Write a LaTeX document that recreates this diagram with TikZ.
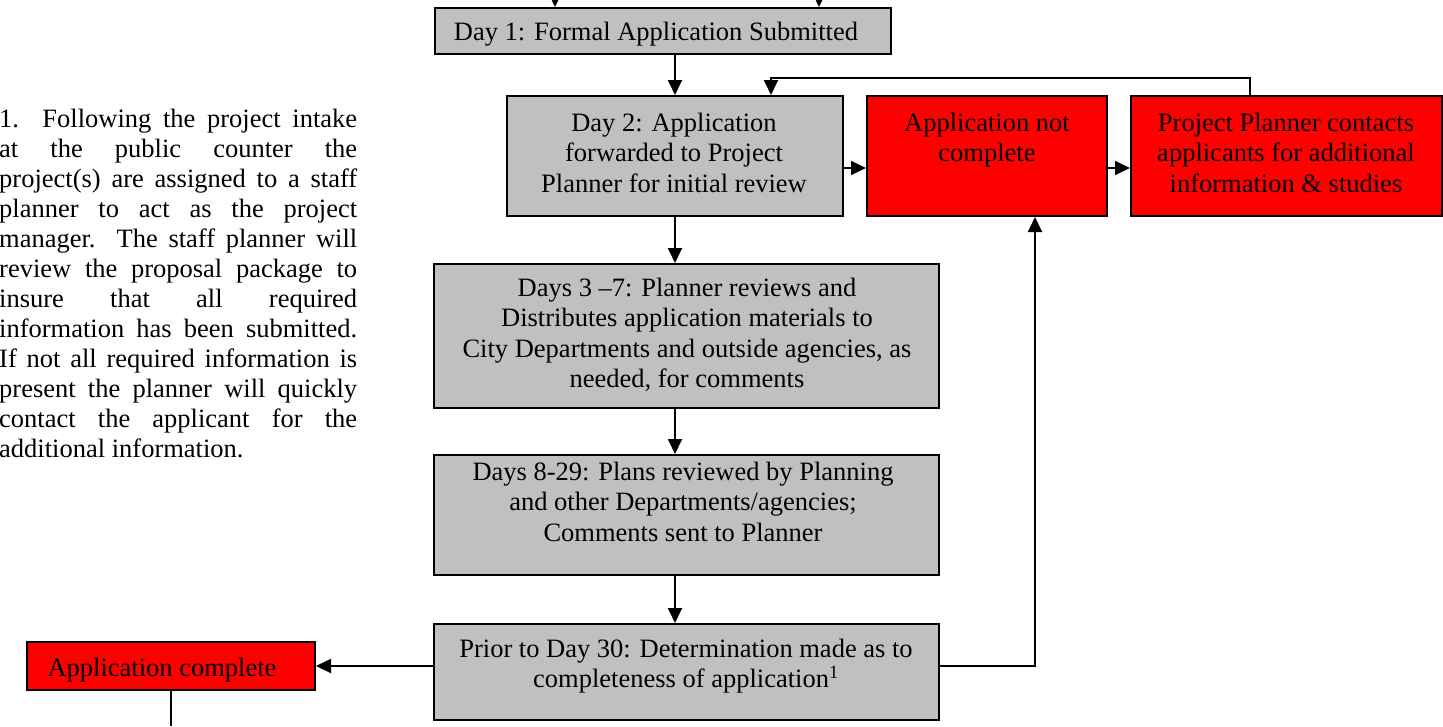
\documentclass[tikz,border=0pt]{standalone}
\usepackage{fontspec}
\setmainfont{Liberation Serif}
\usetikzlibrary{arrows.meta}
\definecolor{boxgray}{HTML}{C0C0C0}
\definecolor{boxred}{HTML}{FF0000}
\newcommand{\mytopstrut}{\rule{0pt}{20pt}}
\newcommand{\jline}[1]{\makebox[358pt][s]{#1}}
\begin{document}
\begin{tikzpicture}[x=1pt,y=-1pt,
  box/.style={draw=black, line width=2pt, inner sep=0pt, rectangle},
  graybox/.style={box, fill=boxgray},
  redbox/.style={box, fill=boxred},
  txt/.style={inner sep=0pt, align=center, font=\fontsize{26.5}{30.5}\selectfont, anchor=north},
  conn/.style={line width=1.8pt},
  arr/.style={conn, -{Triangle[length=15pt,width=14pt]}},
]
\useasboundingbox (0,0) rectangle (1443,726);

% boxes
\node[graybox, minimum width=456pt, minimum height=46pt] (d1) at (663,31) {};
\node[graybox, minimum width=336pt, minimum height=120pt] (d2) at (675,156) {};
\node[redbox, minimum width=240pt, minimum height=120pt] (nc) at (987,156) {};
\node[redbox, minimum width=311pt, minimum height=120pt] (pp) at (1286.5,156) {};
\node[graybox, minimum width=505pt, minimum height=144pt] (d37) at (686.5,336) {};
\node[graybox, minimum width=505pt, minimum height=120pt] (d829) at (686.5,515) {};
\node[graybox, minimum width=505pt, minimum height=96pt] (pr) at (686.5,672) {};
\node[redbox, minimum width=288pt, minimum height=48pt] (ac) at (171,666) {};

% texts
\node[txt, anchor=base] (d1t) at (656,40) {Day 1: Formal Application Submitted};
\node[txt] (d2t) at (674,111) {\mytopstrut Day 2: Application\\forwarded to Project\\Planner for initial review};
\node[txt] (nct) at (987,111) {\mytopstrut Application not\\complete};
\node[txt] (ppt) at (1286,111) {\mytopstrut Project Planner contacts\\applicants for additional\\information \& studies};
\node[txt] (d37t) at (687,276) {\mytopstrut Days 3 –7: Planner reviews and\\Distributes application materials to\\City Departments and outside agencies, as\\needed, for comments};
\node[txt] (d829t) at (683,460) {\mytopstrut Days 8-29: Plans reviewed by Planning\\and other Departments/agencies;\\Comments sent to Planner};
\node[txt] (prt) at (686,637) {\mytopstrut Prior to Day 30: Determination made as to\\completeness of application\textsuperscript{1}};
\node[txt, anchor=base] (act) at (162,676) {Application complete};

\node[inner sep=0pt, align=left, anchor=north west, font=\fontsize{26.5}{30}\selectfont] (note) at (-1,107) {%
\mytopstrut\jline{1.\ \ Following the project intake}\\
\jline{at the public counter the}\\
\jline{project(s) are assigned to a staff}\\
\jline{planner to act as the project}\\
\jline{manager. The staff planner will}\\
\jline{review the proposal package to}\\
\jline{insure that all required}\\
\jline{information has been submitted.}\\
\jline{If not all required information is}\\
\jline{present the planner will quickly}\\
\jline{contact the applicant for the}\\
additional information.};

% connectors
\coordinate (in1) at (555,0);
\coordinate (in2) at (819,0);
\draw[arr] (in1) -- (in1 |- d1.north);
\draw[arr] (in2) -- (in2 |- d1.north);
\coordinate (spine) at (675,0);
\draw[arr] (d1.south -| spine) -- (d2.north -| spine);
\draw[arr] (d2.south -| spine) -- (d37.north -| spine);
\draw[arr] (d37.south -| spine) -- (d829.north -| spine);
\draw[arr] (d829.south -| spine) -- (pr.north -| spine);
\coordinate (row) at (0,168);
\draw[arr] (d2.east |- row) -- (nc.west |- row);
\draw[arr] (nc.east |- row) -- (pp.west |- row);
\coordinate (fbr) at (1250,78);
\coordinate (fbl) at (771,78);
\draw[arr] (pp.north -| fbr) -- (fbr) -- (fbl) -- (fbl |- d2.north);
\draw[arr] (pr.west |- ac.east) -- (ac.east);
\coordinate (rc) at (1035,666);
\draw[arr] (pr.east |- rc) -- (rc) -- (rc |- nc.south);
\coordinate (outb) at (171,726);
\draw[conn] (ac.south) -- (outb);
\end{tikzpicture}
\end{document}
